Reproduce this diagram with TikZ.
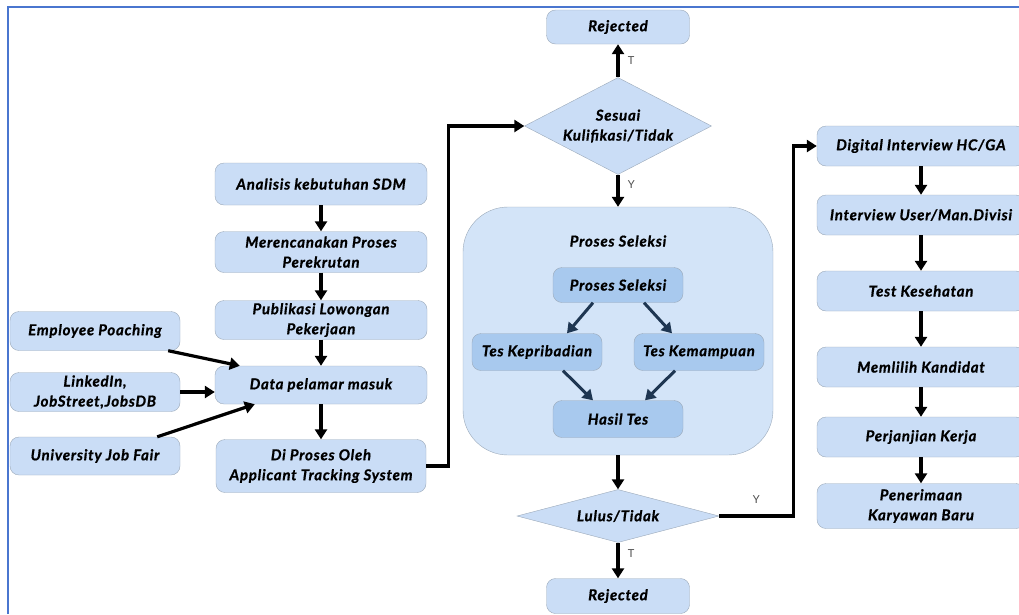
\documentclass[tikz,border=0pt]{standalone}
\usepackage{fontspec}
\setmainfont{Lato}
\usetikzlibrary{shapes.geometric,arrows.meta}
\definecolor{boxfill}{HTML}{CADDF6}
\definecolor{subfill}{HTML}{A8C9EE}
\definecolor{groupfill}{HTML}{D3E4F8}
\definecolor{boxline}{HTML}{9BA9B9}
\definecolor{frameblue}{HTML}{4A76CF}
\definecolor{navy}{HTML}{1E3652}
\newcommand{\boxfont}{\fontsize{15}{20}\selectfont\bfseries\itshape\addfontfeatures{LetterSpace=5,FakeBold=0.8}}
\tikzset{
  box/.style={draw=boxline, fill=boxfill, rounded corners=9pt, align=center, inner sep=1pt,
    font=\boxfont},
  subbox/.style={box, fill=subfill},
  decision/.style={diamond, draw=boxline, fill=boxfill, inner sep=0pt},
  decisiontext/.style={font=\boxfont, align=center},
  flow/.style={line width=3.2pt, -{Triangle[length=10pt,width=12pt]}},
  subflow/.style={flow, draw=navy, line width=3pt},
  tag/.style={font=\fontsize{11}{13}\selectfont, text=black!70}
}
\begin{document}
\begin{tikzpicture}[x=1pt,y=-1pt]
\useasboundingbox (0,0) rectangle (1019,614);
\draw[frameblue, line width=2pt] (8,614) -- (8,7) -- (1019,7);

% seleksi group
\node[draw=boxline, fill=groupfill, rounded corners=45pt, minimum width=310pt, minimum height=248pt] (selbox) at (618,331) {};
\node[font=\boxfont] (seltitle) at (618,241) {Proses Seleksi};
\node[subbox, minimum width=130pt, minimum height=35pt] (selinner) at (618,285) {Proses Seleksi};
\node[subbox, minimum width=130pt, minimum height=37pt] (kepri) at (537,352) {Tes Kepribadian};
\node[subbox, minimum width=130pt, minimum height=37pt] (kemam) at (699,352) {Tes Kemampuan};
\node[subbox, minimum width=130pt, minimum height=37pt] (hasil) at (618,419) {Hasil Tes};

% middle column
\node[box, minimum width=143pt, minimum height=34pt] (rejtop) at (618,27) {Rejected};
\node[decision, minimum width=187pt, minimum height=97pt] (sesuai) at (618,126) {};
\node[decisiontext] (sesuaitext) at (sesuai) {Sesuai\\Kulifikasi/Tidak};
\node[decision, minimum width=202pt, minimum height=53pt] (lulus) at (618,516) {};
\node[decisiontext] (lulustext) at (lulus) {Lulus/Tidak};
\node[box, minimum width=143pt, minimum height=35pt] (rejbot) at (618,596) {Rejected};

% left columns
\node[box, minimum width=212pt, minimum height=42pt] (analisis) at (321,184) {Analisis kebutuhan SDM};
\node[box, minimum width=212pt, minimum height=41pt] (rencana) at (321,252) {Merencanakan Proses\\Perekrutan};
\node[box, minimum width=212pt, minimum height=39pt] (publik) at (321,320) {Publikasi Lowongan\\Pekerjaan};
\node[box, minimum width=212pt, minimum height=38pt] (data) at (321,385) {Data pelamar masuk};
\node[box, minimum width=210pt, minimum height=53pt] (ats) at (321,466) {Di Proses Oleh\\Applicant Tracking System};
\node[box, minimum width=170pt, minimum height=39pt] (poach) at (95,331) {Employee Poaching};
\node[box, minimum width=170pt, minimum height=39pt] (linked) at (95,392) {LinkedIn,\\JobStreet,JobsDB};
\node[box, minimum width=170pt, minimum height=38pt] (fair) at (95,456) {University Job Fair};

% right column
\node[box, minimum width=208pt, minimum height=40pt] (digital) at (921,146) {Digital Interview HC/GA};
\node[box, minimum width=208pt, minimum height=40pt] (user) at (921,215) {Interview User/Man.Divisi};
\node[box, minimum width=208pt, minimum height=40pt] (sehat) at (921,291) {Test Kesehatan};
\node[box, minimum width=208pt, minimum height=40pt] (pilih) at (921,367) {Memlilih Kandidat};
\node[box, minimum width=208pt, minimum height=40pt] (janji) at (921,437) {Perjanjian Kerja};
\node[box, minimum width=208pt, minimum height=45pt] (terima) at (921,506) {Penerimaan\\Karyawan Baru};

% arrows
\draw[flow] (analisis) -- (rencana);
\draw[flow] (rencana) -- (publik);
\draw[flow] (publik) -- (data);
\draw[flow] (data) -- (ats);
\draw[flow] ([xshift=-12pt]poach.south east) -- ([xshift=25pt]data.north west);
\draw[flow] (linked.east) -- (data.west |- linked.east);
\draw[flow] ([xshift=-23pt]fair.north east) -- ([xshift=40pt]data.south west);
\draw[flow] (ats.east) -- ++(22,0) |- (sesuai.west);
\draw[flow] (sesuai.north) -- (rejtop.south) node[tag, pos=0.5, right=5pt] {T};
\draw[flow] (sesuai.south) -- (selbox.north) node[tag, pos=0.3, right=5pt] {Y};
\draw[subflow] ([xshift=-25pt]selinner.south) -- ([xshift=30pt]kepri.north);
\draw[subflow] ([xshift=26pt]selinner.south) -- ([xshift=-27pt]kemam.north);
\draw[subflow] ([xshift=26pt]kepri.south) -- ([xshift=-25pt]hasil.north);
\draw[subflow] ([xshift=-24pt]kemam.south) -- ([xshift=27pt]hasil.north);
\draw[flow] (selbox.south) -- (lulus.north);
\draw[flow] (lulus.south) -- (rejbot.north) node[tag, pos=0.3, right=5pt] {T};
\draw[flow] (lulus.east) -- ++(74,0) node[tag, pos=0.5, above=8pt] {Y} |- (digital.west);
\draw[flow] (digital) -- (user);
\draw[flow] (user) -- (sehat);
\draw[flow] (sehat) -- (pilih);
\draw[flow] (pilih) -- (janji);
\draw[flow] (janji) -- (terima);
\end{tikzpicture}
\end{document}
